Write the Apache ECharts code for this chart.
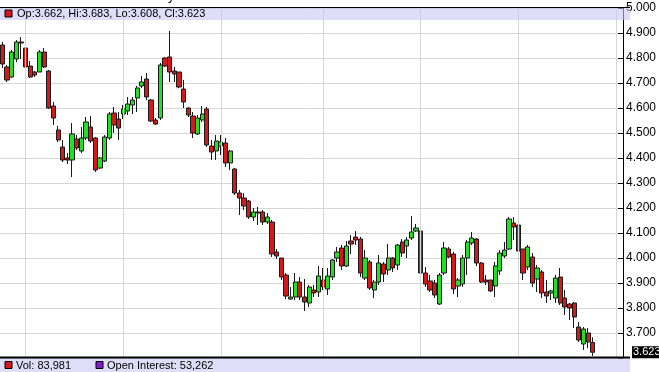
<!DOCTYPE html>
<html><head><meta charset="utf-8">
<script src="https://cdn.jsdelivr.net/npm/echarts@6/dist/echarts.min.js"></script>
<style>html,body{margin:0;padding:0;background:#fff;}#c{width:659px;height:372px;}</style>
</head><body><div id="c"></div>
<script>
// ---- data ----
const opens = [4.852,4.764,4.724,4.796,4.864,4.840,4.768,4.744,4.744,4.824,4.748,4.608,4.512,4.444,4.400,4.392,4.476,4.428,4.480,4.524,
4.480,4.360,4.388,4.480,4.580,4.556,4.576,4.588,4.612,4.640,4.688,4.716,4.632,4.552,4.560,4.800,4.804,4.748,4.744,4.676,
4.600,4.568,4.496,4.552,4.596,4.448,4.428,4.448,4.460,4.380,4.356,4.260,4.240,4.228,4.164,4.184,4.184,4.144,4.144,4.024,
4.000,3.932,3.836,3.844,3.904,3.844,3.820,3.872,3.864,3.912,3.876,3.924,4.000,4.040,3.968,4.068,4.084,4.076,3.920,3.984,
3.872,3.904,3.976,3.952,4.000,3.972,4.064,4.048,4.080,4.108,4.108,3.940,3.908,3.900,3.816,3.940,4.036,4.016,3.888,3.896,
4.000,4.060,4.076,3.980,3.912,3.912,3.888,3.948,4.008,4.036,4.140,4.132,4.036,3.964,4.004,3.916,3.944,3.864,3.860,3.840,
3.924,3.840,3.816,3.820,3.724,3.656,3.700,3.662];
const closes = [4.776,4.712,4.824,4.864,4.860,4.764,4.724,4.732,4.824,4.764,4.600,4.560,4.472,4.392,4.392,4.496,4.440,4.480,4.544,4.468,
4.352,4.400,4.484,4.576,4.532,4.520,4.596,4.616,4.632,4.680,4.704,4.644,4.548,4.536,4.772,4.768,4.744,4.736,4.684,4.624,
4.572,4.500,4.560,4.576,4.452,4.424,4.468,4.464,4.380,4.428,4.260,4.240,4.208,4.164,4.184,4.180,4.144,4.164,4.016,4.008,
3.924,3.848,3.844,3.904,3.844,3.824,3.884,3.860,3.928,3.884,3.928,3.992,4.024,3.968,4.048,4.056,4.072,3.940,4.000,3.880,
3.904,3.980,3.936,4.000,3.960,4.052,4.020,4.072,4.104,4.120,3.940,3.896,3.872,3.852,3.932,4.040,4.004,3.876,3.912,4.000,
4.064,4.080,3.980,3.904,3.904,3.868,3.968,4.020,4.032,4.156,4.124,4.028,3.940,4.044,3.900,3.960,3.860,3.848,3.868,3.920,
3.820,3.804,3.800,3.764,3.672,3.716,3.664,3.623];
const lows = [4.760,4.704,4.720,4.784,4.796,4.760,4.720,4.724,4.744,4.760,4.596,4.532,4.464,4.384,4.376,4.324,4.432,4.420,4.472,4.460,
4.344,4.356,4.384,4.472,4.500,4.472,4.556,4.572,4.576,4.584,4.680,4.632,4.544,4.532,4.552,4.764,4.704,4.704,4.680,4.600,
4.564,4.480,4.492,4.544,4.444,4.392,4.392,4.412,4.364,4.352,4.252,4.172,4.192,4.156,4.148,4.132,4.132,4.136,4.004,3.996,
3.912,3.836,3.832,3.832,3.832,3.788,3.804,3.844,3.844,3.872,3.852,3.912,3.984,3.952,3.964,4.016,4.052,3.924,3.912,3.872,
3.840,3.892,3.904,3.932,3.944,3.952,4.004,4.000,4.072,4.104,3.932,3.884,3.864,3.840,3.812,3.932,4.000,3.856,3.844,3.884,
3.932,4.052,3.968,3.900,3.892,3.864,3.844,3.932,4.000,4.032,4.072,4.020,3.912,3.952,3.884,3.864,3.840,3.820,3.832,3.820,
3.812,3.772,3.752,3.720,3.664,3.632,3.640,3.608];
const highs = [4.864,4.772,4.832,4.872,4.884,4.848,4.788,4.748,4.832,4.840,4.752,4.624,4.528,4.472,4.420,4.540,4.492,4.524,4.564,4.568,
4.484,4.404,4.492,4.584,4.604,4.584,4.612,4.644,4.644,4.688,4.728,4.740,4.636,4.560,4.780,4.804,4.908,4.764,4.744,4.712,
4.604,4.584,4.572,4.608,4.604,4.472,4.492,4.492,4.480,4.432,4.360,4.272,4.260,4.232,4.200,4.204,4.192,4.180,4.152,4.036,
4.000,3.940,3.884,3.940,3.924,3.916,3.892,3.892,3.968,3.960,3.960,3.996,4.044,4.052,4.068,4.092,4.108,4.084,4.032,3.992,
3.912,4.012,3.984,4.056,4.004,4.056,4.076,4.084,4.168,4.136,4.124,3.964,3.932,3.912,3.940,4.064,4.044,4.024,3.920,4.012,
4.072,4.104,4.080,3.984,3.932,3.912,3.984,4.032,4.064,4.164,4.164,4.184,4.036,4.052,4.020,3.972,3.952,3.912,3.872,3.932,
3.960,3.872,3.820,3.824,3.744,3.724,3.720,3.683];
const blankSlots = 6;                       // empty space right of the last bar
const monthStarts = [5, 26, 47, 69, 90, 111, 132]; // vertical grid lines
const headerText = 'Op:3.662, Hi:3.683, Lo:3.608, Cl:3.623';
const volText = 'Vol: 83,981';
const oiText = 'Open Interest: 53,262';
const lastClose = closes[closes.length - 1];

// ---- build ----
const total = opens.length + blankSlots;
const categories = [];
for (let i = 0; i < total; i++) categories.push('d' + i);
const candles = opens.map((o, i) => [o, closes[i], lows[i], highs[i]]);

const RED = '#d4191b', GREEN = '#22e022', LAV = 'rgba(200,200,243,0.6)';
const FONT = 'Liberation Sans, Arial, sans-serif';

const chart = echarts.init(document.getElementById('c'), null, {renderer: 'canvas'});
const baseGraphic = [
  {type: 'text', left: 168, top: -10, style: {text: 'y', fontSize: 13, fontFamily: FONT, fill: '#000'}},
  {type: 'rect', shape: {x: 0, y: 8, width: 630, height: 12}, style: {fill: LAV}, z: 10},
  {type: 'line', shape: {x1: 0, y1: 7.5, x2: 630, y2: 7.5}, style: {stroke: '#000', lineWidth: 1}, z: 11},
  {type: 'rect', shape: {x: 5, y: 10, width: 7, height: 7}, style: {fill: RED, stroke: '#000', lineWidth: 1}, z: 11},
  {type: 'text', x: 17, y: 14, style: {text: headerText, fontSize: 11, fontFamily: FONT, fill: '#000', verticalAlign: 'middle'}, z: 11},
  {type: 'rect', shape: {x: 0, y: 358, width: 630, height: 14}, style: {fill: LAV}, z: 10},
  {type: 'line', shape: {x1: 0, y1: 357.5, x2: 630, y2: 357.5}, style: {stroke: '#000', lineWidth: 2}, z: 11},
  {type: 'rect', shape: {x: 5, y: 361.5, width: 7, height: 7}, style: {fill: RED, stroke: '#000', lineWidth: 1}, z: 11},
  {type: 'text', x: 16, y: 365.5, style: {text: volText, fontSize: 11, fontFamily: FONT, fill: '#000', verticalAlign: 'middle'}, z: 11},
  {type: 'rect', shape: {x: 96, y: 361.5, width: 7, height: 7}, style: {fill: '#7a22c8', stroke: '#000', lineWidth: 1}, z: 11},
  {type: 'text', x: 107, y: 365.5, style: {text: oiText, fontSize: 11, fontFamily: FONT, fill: '#000', verticalAlign: 'middle'}, z: 11}
];
chart.setOption({
  animation: false,
  backgroundColor: '#fff',
  grid: {left: 0, right: 29, top: 8, bottom: 14},
  xAxis: {
    type: 'category', data: categories, boundaryGap: true,
    axisLine: {show: false}, axisTick: {show: false}, axisLabel: {show: false}, splitLine: {show: false}
  },
  yAxis: {
    type: 'value', position: 'right', min: 3.6, max: 5.0, interval: 0.1,
    axisLine: {show: true, lineStyle: {color: '#000', width: 1}},
    axisTick: {show: true, inside: true, length: 5, lineStyle: {color: '#000'}},
    axisLabel: {
      margin: 3, color: '#000', fontSize: 12, fontFamily: FONT,
      formatter: v => (v < 3.65 ? '' : v.toFixed(3))
    },
    splitLine: {show: true, lineStyle: {color: '#d6d6d6', width: 1}}
  },
  series: [
    {
      type: 'line', data: [], z: 1, silent: true,
      markLine: {
        silent: true, symbol: 'none', animation: false,
        label: {show: false},
        lineStyle: {color: '#d6d6d6', width: 1, type: 'solid'},
        data: monthStarts.map(i => ({xAxis: categories[i]}))
      }
    },
    {
      type: 'candlestick', data: candles, z: 3, barWidth: 4.7,
      itemStyle: {color: GREEN, color0: RED, borderColor: '#1a1a1a', borderColor0: '#1a1a1a', borderWidth: 1}
    }
  ],
  graphic: baseGraphic
});

// last-price tag on the right axis, placed through the axis scale
const yPix = chart.convertToPixel({yAxisIndex: 0}, lastClose);
chart.setOption({
  graphic: baseGraphic.concat([
    {type: 'rect', shape: {x: 632, y: yPix - 6, width: 28, height: 12}, style: {fill: '#000'}, z: 12},
    {type: 'text', x: 633, y: yPix, style: {text: lastClose.toFixed(3), fontSize: 11, fontFamily: FONT, fill: '#fff', verticalAlign: 'middle'}, z: 13}
  ])
});
</script></body></html>
